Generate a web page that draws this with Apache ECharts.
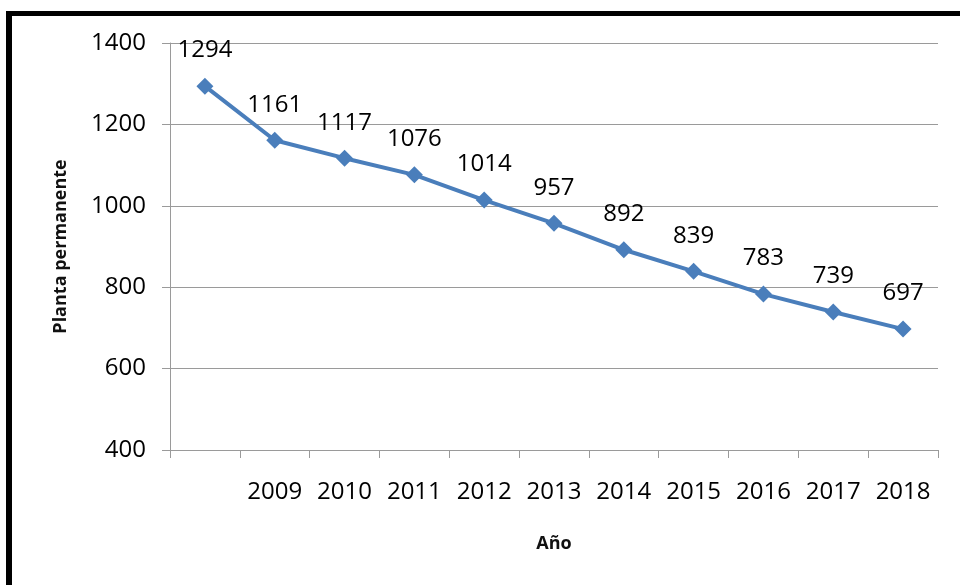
<!DOCTYPE html>
<html>
<head>
    <meta charset="UTF-8">
    <title>Planta permanente por año</title>
    <script src="https://cdn.jsdelivr.net/npm/echarts@6/dist/echarts.min.js"></script>
    <style>
        html, body { margin: 0; padding: 0; background: #fff; }
        #chart { width: 960px; height: 585px; }
    </style>
</head>
<body>
<div id="chart"></div>
<script type="text/javascript">
    // datos (el primer año no tiene etiqueta)
    var years = ['', '2009', '2010', '2011', '2012', '2013', '2014', '2015', '2016', '2017', '2018'];
    var planta = [1294, 1161, 1117, 1076, 1014, 957, 892, 839, 783, 739, 697];

    var myChart = echarts.init(document.getElementById('chart'));
    var font = '"Open Sans", "DejaVu Sans", sans-serif';

    var option = {
        backgroundColor: '#ffffff',
        animation: false,
        // marco negro arriba e izquierda
        graphic: [
            { type: 'rect', shape: { x: 6, y: 11, width: 954, height: 5 }, style: { fill: '#000' } },
            { type: 'rect', shape: { x: 6, y: 11, width: 6, height: 574 }, style: { fill: '#000' } }
        ],
        grid: {
            left: 170,
            right: 22,
            top: 43,
            bottom: 135
        },
        xAxis: {
            type: 'category',
            data: years,
            boundaryGap: true,
            name: 'Año',
            nameLocation: 'middle',
            nameGap: 85,
            nameTextStyle: { fontFamily: font, fontSize: 18, fontWeight: 'bold', color: '#111' },
            axisLine: { lineStyle: { color: '#9a9a9a', width: 1 } },
            axisTick: { show: true, length: 8, lineStyle: { color: '#9a9a9a' } },
            axisLabel: { fontFamily: font, fontSize: 24, color: '#000', margin: 30, interval: 0 },
            splitLine: { show: false }
        },
        yAxis: {
            type: 'value',
            min: 400,
            max: 1400,
            interval: 200,
            name: 'Planta permanente',
            nameLocation: 'middle',
            nameGap: 100,
            nameTextStyle: { fontFamily: font, fontSize: 18, fontWeight: 'bold', color: '#111' },
            axisLine: { show: true, lineStyle: { color: '#9a9a9a', width: 1 } },
            axisTick: { show: true, length: 8, lineStyle: { color: '#9a9a9a' } },
            axisLabel: {
                fontFamily: font, fontSize: 24, color: '#000', margin: 24,
                formatter: function (v) { return String(v); }
            },
            splitLine: { lineStyle: { color: '#9a9a9a', width: 1 } }
        },
        series: [
            {
                name: 'Planta permanente',
                type: 'line',
                data: planta,
                symbol: 'diamond',
                symbolSize: 17,
                lineStyle: { color: '#4a7ebb', width: 4 },
                itemStyle: { color: '#4a7ebb' },
                label: {
                    show: true,
                    position: 'top',
                    distance: 15,
                    fontFamily: font,
                    fontSize: 24,
                    color: '#000'
                }
            }
        ]
    };
    myChart.setOption(option);
</script>
</body>
</html>
